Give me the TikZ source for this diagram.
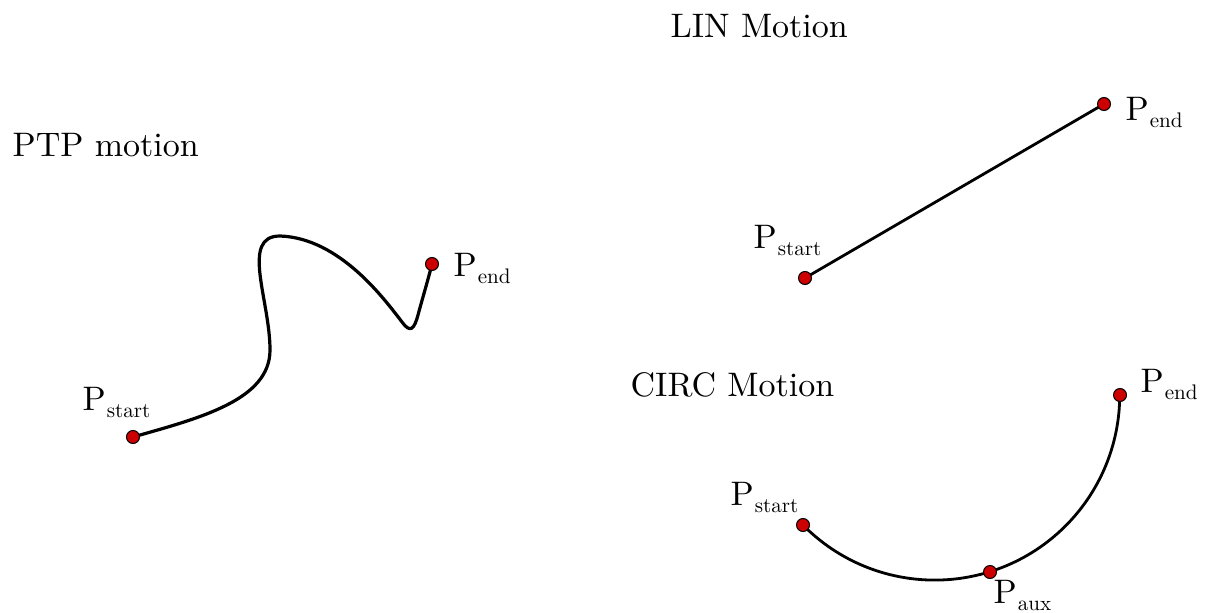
\documentclass[tikz,border=0pt]{standalone}
\usepackage{graphicx}
\usepackage{tikz}
% point label: upright P with a small lowered index
\newcommand{\ptlabel}[1]{P\kern0.3pt\raisebox{-2.1pt}{\scalebox{0.62}{#1}}}
\begin{document}
\begin{tikzpicture}[x=1pt,y=1pt,
  pt/.style={circle,draw=black,line width=1pt,fill=red!80!black,inner sep=0pt,minimum size=13pt},
  path/.style={line width=3.2pt,black},
  lbl/.style={anchor=base west,inner sep=0pt,scale=3.4,font=\fontsize{10}{12}\selectfont},
  title/.style={anchor=base west,inner sep=0pt,scale=3.4,font=\fontsize{10}{12}\selectfont}]
\useasboundingbox (0,-613) rectangle (1205,0);

% titles
\node[title] (tptp)  at (12,-156) {PTP motion};
\node[title] (tlin)  at (670,-37) {LIN Motion};
\node[title] (tcirc) at (630,-396) {CIRC Motion};

% point positions
\coordinate (ps) at (133,-437);
\coordinate (pe) at (432,-264);
\coordinate (ls) at (805,-278);
\coordinate (le) at (1104,-104);
\coordinate (cs) at (803,-525);
\coordinate (ca) at (990,-572);
\coordinate (ce) at (1120,-395);

% PTP: free-form curve
\draw[path] (ps) .. controls (200,-418) and (270,-400) .. (270,-350)
  .. controls (270,-300) and (240,-236) .. (280,-236)
  .. controls (340,-238) and (385,-300) .. (402,-322)
  .. controls (410,-333) and (414,-330) .. (418,-315)
  .. controls (422,-300) and (428,-280) .. (pe);

% LIN: straight segment
\draw[path,line width=2.8pt] (ls) -- (le);

% CIRC: circular arc through start, aux and end
\draw[path,line width=2.8pt] (cs) arc[start angle=224.6, end angle=360, radius=185];

% points
\node[pt] (nps) at (ps) {};
\node[pt] (npe) at (pe) {};
\node[pt] (nls) at (ls) {};
\node[pt] (nle) at (le) {};
\node[pt] (ncs) at (cs) {};
\node[pt] (nca) at (ca) {};
\node[pt] (nce) at (ce) {};

% labels
\node[lbl] (lps) at (82,-410) {\ptlabel{start}};
\node[lbl] (lpe) at (453,-276) {\ptlabel{end}};
\node[lbl] (lls) at (753,-248) {\ptlabel{start}};
\node[lbl] (lle) at (1125,-120) {\ptlabel{end}};
\node[lbl] (lcs) at (730,-505) {\ptlabel{start}};
\node[lbl] (lce) at (1140,-392) {\ptlabel{end}};
\node[lbl] (lca) at (993,-603) {\ptlabel{aux}};
\end{tikzpicture}
\end{document}
